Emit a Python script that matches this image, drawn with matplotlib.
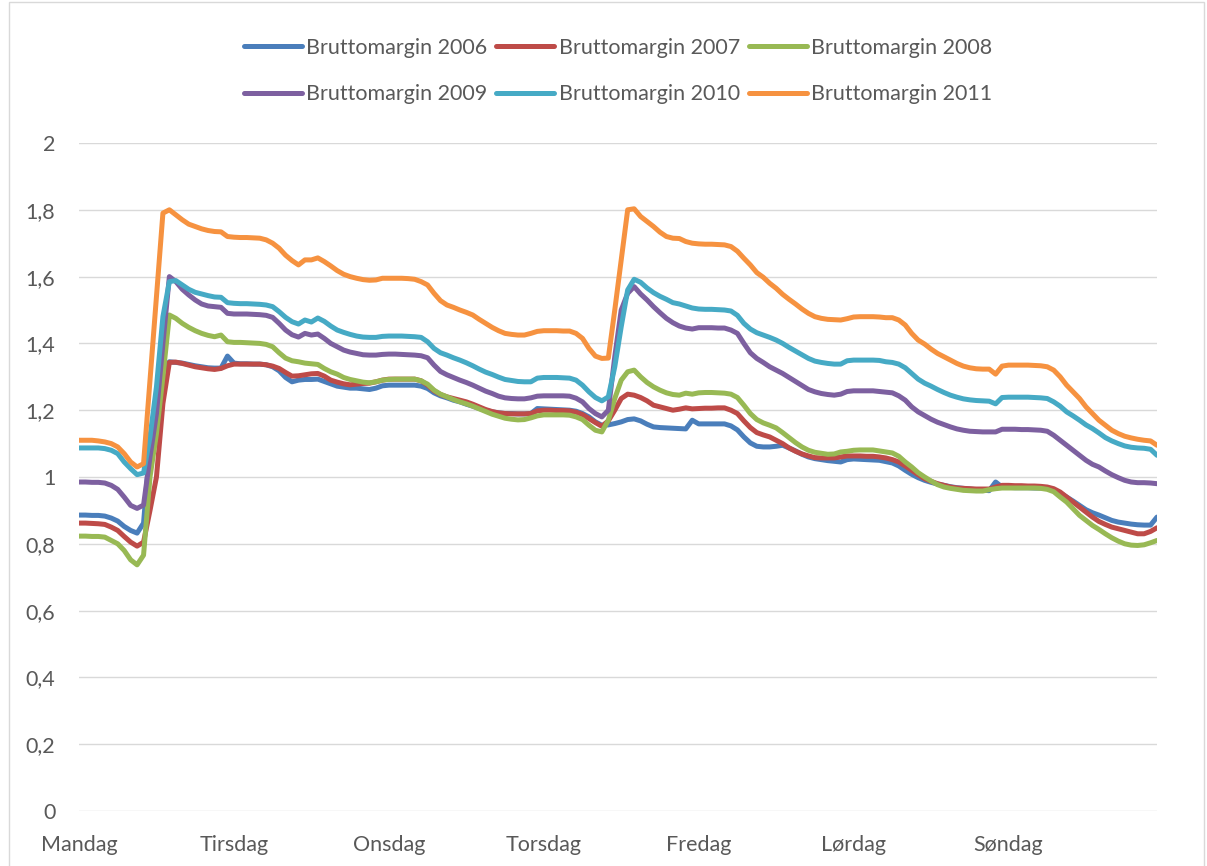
import matplotlib
matplotlib.use("Agg")
import matplotlib.pyplot as plt
from matplotlib.patches import Rectangle
import numpy as np

plt.rcParams['font.family'] = ['Lato', 'DejaVu Sans']

days = ['Mandag', 'Tirsdag', 'Onsdag', 'Torsdag', 'Fredag', 'Lørdag', 'Søndag']
hours = np.arange(168)

b2006 = [0.886, 0.886, 0.885, 0.885, 0.883, 0.877, 0.868, 0.852, 0.840, 0.832, 0.862, 1.100, 1.200, 1.320, 1.345, 1.343, 1.341, 1.337, 1.333, 1.330, 1.327, 1.326, 1.326, 1.362,
         1.341, 1.339, 1.339, 1.338, 1.338, 1.336, 1.330, 1.318, 1.298, 1.285, 1.290, 1.292, 1.292, 1.293, 1.286, 1.279, 1.272, 1.269, 1.266, 1.266, 1.264, 1.262, 1.266, 1.273,
         1.275, 1.275, 1.275, 1.275, 1.275, 1.272, 1.265, 1.252, 1.243, 1.237, 1.230, 1.225, 1.218, 1.212, 1.205, 1.200, 1.195, 1.192, 1.190, 1.190, 1.189, 1.189, 1.190, 1.205,
         1.204, 1.203, 1.202, 1.201, 1.200, 1.197, 1.190, 1.180, 1.165, 1.155, 1.156, 1.160, 1.165, 1.172, 1.174, 1.168, 1.158, 1.150, 1.148, 1.147, 1.146, 1.145, 1.144, 1.170,
         1.159, 1.159, 1.159, 1.159, 1.159, 1.153, 1.141, 1.120, 1.102, 1.092, 1.090, 1.090, 1.092, 1.095, 1.087, 1.078, 1.068, 1.060, 1.055, 1.052, 1.049, 1.047, 1.045, 1.052,
         1.054, 1.053, 1.052, 1.051, 1.050, 1.046, 1.042, 1.033, 1.020, 1.008, 0.998, 0.990, 0.984, 0.979, 0.975, 0.971, 0.968, 0.966, 0.964, 0.962, 0.961, 0.959, 0.985, 0.970,
         0.969, 0.968, 0.968, 0.968, 0.967, 0.967, 0.966, 0.961, 0.952, 0.940, 0.928, 0.915, 0.902, 0.893, 0.886, 0.878, 0.870, 0.865, 0.862, 0.859, 0.857, 0.856, 0.856, 0.880]

b2007 = [0.862, 0.862, 0.861, 0.860, 0.858, 0.850, 0.840, 0.822, 0.805, 0.793, 0.805, 0.900, 1.000, 1.220, 1.343, 1.344, 1.340, 1.335, 1.330, 1.327, 1.324, 1.322, 1.325, 1.333,
         1.338, 1.338, 1.338, 1.338, 1.338, 1.336, 1.332, 1.325, 1.313, 1.302, 1.303, 1.306, 1.309, 1.310, 1.302, 1.290, 1.284, 1.279, 1.276, 1.278, 1.280, 1.281, 1.285, 1.290,
         1.293, 1.293, 1.293, 1.293, 1.293, 1.288, 1.275, 1.258, 1.247, 1.240, 1.235, 1.230, 1.225, 1.218, 1.210, 1.202, 1.196, 1.192, 1.190, 1.189, 1.189, 1.189, 1.190, 1.198,
         1.200, 1.200, 1.199, 1.199, 1.198, 1.194, 1.187, 1.175, 1.163, 1.152, 1.168, 1.200, 1.235, 1.248, 1.245, 1.238, 1.228, 1.215, 1.210, 1.205, 1.200, 1.203, 1.207, 1.204,
         1.205, 1.206, 1.206, 1.207, 1.207, 1.200, 1.190, 1.168, 1.148, 1.133, 1.126, 1.120, 1.110, 1.100, 1.087, 1.077, 1.069, 1.063, 1.058, 1.057, 1.057, 1.057, 1.060, 1.063,
         1.063, 1.063, 1.062, 1.062, 1.060, 1.057, 1.052, 1.045, 1.033, 1.020, 1.007, 0.995, 0.987, 0.980, 0.975, 0.970, 0.967, 0.966, 0.965, 0.964, 0.964, 0.964, 0.970, 0.975,
         0.975, 0.974, 0.974, 0.973, 0.973, 0.972, 0.970, 0.965, 0.955, 0.940, 0.925, 0.910, 0.895, 0.880, 0.867, 0.858, 0.850, 0.845, 0.840, 0.835, 0.830, 0.830, 0.837, 0.848]

b2008 = [0.823, 0.823, 0.822, 0.822, 0.820, 0.810, 0.800, 0.780, 0.752, 0.737, 0.766, 1.000, 1.130, 1.300, 1.485, 1.475, 1.460, 1.448, 1.438, 1.430, 1.424, 1.420, 1.425, 1.405,
         1.403, 1.403, 1.402, 1.401, 1.400, 1.397, 1.390, 1.372, 1.356, 1.348, 1.345, 1.341, 1.339, 1.337, 1.325, 1.315, 1.308, 1.298, 1.292, 1.288, 1.284, 1.282, 1.285, 1.290,
         1.292, 1.293, 1.293, 1.293, 1.293, 1.288, 1.278, 1.260, 1.248, 1.240, 1.232, 1.225, 1.219, 1.212, 1.204, 1.196, 1.188, 1.182, 1.176, 1.173, 1.171, 1.172, 1.177, 1.183,
         1.186, 1.186, 1.186, 1.186, 1.185, 1.180, 1.172, 1.155, 1.140, 1.135, 1.170, 1.235, 1.290, 1.315, 1.320, 1.300, 1.283, 1.270, 1.260, 1.252, 1.247, 1.245, 1.251, 1.248,
         1.252, 1.253, 1.253, 1.252, 1.251, 1.248, 1.238, 1.215, 1.190, 1.172, 1.162, 1.155, 1.147, 1.133, 1.118, 1.103, 1.090, 1.080, 1.074, 1.071, 1.068, 1.069, 1.075, 1.077,
         1.080, 1.081, 1.081, 1.081, 1.078, 1.075, 1.072, 1.062, 1.045, 1.030, 1.013, 1.000, 0.988, 0.977, 0.970, 0.966, 0.963, 0.960, 0.959, 0.958, 0.958, 0.962, 0.965, 0.967,
         0.967, 0.967, 0.967, 0.967, 0.967, 0.966, 0.963, 0.956, 0.940, 0.925, 0.905, 0.885, 0.870, 0.855, 0.843, 0.830, 0.818, 0.808, 0.800, 0.796, 0.795, 0.797, 0.803, 0.810]

b2009 = [0.985, 0.985, 0.984, 0.984, 0.982, 0.975, 0.963, 0.940, 0.915, 0.906, 0.916, 1.060, 1.190, 1.400, 1.600, 1.585, 1.562, 1.545, 1.530, 1.518, 1.512, 1.510, 1.508, 1.490,
         1.488, 1.488, 1.488, 1.487, 1.486, 1.484, 1.478, 1.460, 1.440, 1.426, 1.419, 1.430, 1.425, 1.428, 1.415, 1.400, 1.390, 1.380, 1.374, 1.370, 1.366, 1.365, 1.365, 1.367,
         1.368, 1.368, 1.367, 1.366, 1.365, 1.363, 1.357, 1.335, 1.316, 1.306, 1.298, 1.290, 1.283, 1.275, 1.266, 1.257, 1.250, 1.242, 1.237, 1.235, 1.234, 1.234, 1.237, 1.242,
         1.243, 1.243, 1.243, 1.243, 1.242, 1.236, 1.225, 1.205, 1.190, 1.180, 1.200, 1.360, 1.500, 1.550, 1.570, 1.548, 1.530, 1.510, 1.492, 1.475, 1.462, 1.452, 1.446, 1.443,
         1.447, 1.447, 1.447, 1.446, 1.446, 1.440, 1.430, 1.400, 1.372, 1.355, 1.343, 1.330, 1.320, 1.310, 1.298, 1.286, 1.274, 1.262, 1.255, 1.250, 1.247, 1.245, 1.248, 1.256,
         1.258, 1.258, 1.258, 1.258, 1.256, 1.254, 1.252, 1.243, 1.230, 1.210, 1.195, 1.184, 1.173, 1.164, 1.157, 1.150, 1.144, 1.140, 1.137, 1.136, 1.135, 1.135, 1.135, 1.143,
         1.143, 1.143, 1.142, 1.142, 1.141, 1.140, 1.137, 1.125, 1.110, 1.095, 1.080, 1.065, 1.050, 1.038, 1.030, 1.018, 1.007, 0.998, 0.990, 0.985, 0.983, 0.983, 0.982, 0.980]

b2010 = [1.087, 1.087, 1.087, 1.087, 1.085, 1.080, 1.070, 1.045, 1.025, 1.007, 1.012, 1.120, 1.270, 1.480, 1.585, 1.588, 1.575, 1.562, 1.553, 1.548, 1.543, 1.539, 1.538, 1.522,
         1.520, 1.519, 1.519, 1.518, 1.517, 1.515, 1.510, 1.495, 1.478, 1.465, 1.458, 1.470, 1.464, 1.476, 1.466, 1.452, 1.440, 1.433, 1.427, 1.422, 1.419, 1.418, 1.418, 1.421,
         1.422, 1.422, 1.422, 1.421, 1.420, 1.418, 1.405, 1.385, 1.372, 1.365, 1.357, 1.350, 1.342, 1.333, 1.323, 1.314, 1.307, 1.299, 1.292, 1.289, 1.286, 1.285, 1.285, 1.296,
         1.298, 1.298, 1.298, 1.297, 1.296, 1.290, 1.275, 1.255, 1.238, 1.228, 1.240, 1.330, 1.450, 1.560, 1.592, 1.583, 1.566, 1.552, 1.541, 1.532, 1.522, 1.518, 1.512, 1.506,
         1.503, 1.502, 1.502, 1.501, 1.500, 1.497, 1.484, 1.460, 1.443, 1.432, 1.425, 1.418, 1.410, 1.400, 1.388, 1.377, 1.366, 1.355, 1.347, 1.343, 1.340, 1.338, 1.338, 1.348,
         1.350, 1.350, 1.350, 1.350, 1.349, 1.345, 1.343, 1.338, 1.327, 1.310, 1.293, 1.281, 1.272, 1.262, 1.253, 1.245, 1.239, 1.234, 1.231, 1.229, 1.228, 1.227, 1.219, 1.238,
         1.239, 1.239, 1.239, 1.239, 1.238, 1.237, 1.235, 1.225, 1.212, 1.195, 1.183, 1.170, 1.156, 1.145, 1.132, 1.118, 1.108, 1.100, 1.093, 1.089, 1.087, 1.086, 1.083, 1.065]

b2011 = [1.110, 1.110, 1.110, 1.108, 1.105, 1.100, 1.090, 1.070, 1.045, 1.030, 1.040, 1.290, 1.540, 1.790, 1.800, 1.785, 1.770, 1.757, 1.750, 1.743, 1.738, 1.735, 1.734, 1.720,
         1.718, 1.717, 1.717, 1.716, 1.715, 1.710, 1.700, 1.685, 1.664, 1.648, 1.635, 1.650, 1.650, 1.656, 1.645, 1.632, 1.618, 1.607, 1.600, 1.595, 1.591, 1.589, 1.590, 1.595,
         1.595, 1.595, 1.595, 1.594, 1.592, 1.585, 1.575, 1.550, 1.528, 1.515, 1.508, 1.500, 1.493, 1.485, 1.472, 1.460, 1.448, 1.438, 1.430, 1.427, 1.425, 1.425, 1.430, 1.436,
         1.438, 1.438, 1.438, 1.437, 1.437, 1.430, 1.415, 1.385, 1.362, 1.355, 1.356, 1.500, 1.650, 1.800, 1.803, 1.780, 1.765, 1.750, 1.733, 1.720, 1.715, 1.714, 1.705, 1.700,
         1.698, 1.697, 1.697, 1.696, 1.695, 1.690, 1.676, 1.655, 1.635, 1.612, 1.598, 1.580, 1.565, 1.547, 1.532, 1.518, 1.503, 1.490, 1.480, 1.475, 1.472, 1.471, 1.470, 1.474,
         1.479, 1.480, 1.480, 1.480, 1.479, 1.477, 1.477, 1.470, 1.455, 1.430, 1.410, 1.398, 1.383, 1.370, 1.360, 1.350, 1.340, 1.332, 1.327, 1.324, 1.323, 1.323, 1.308, 1.332,
         1.335, 1.335, 1.335, 1.335, 1.334, 1.333, 1.330, 1.320, 1.300, 1.275, 1.255, 1.235, 1.210, 1.190, 1.170, 1.155, 1.140, 1.130, 1.122, 1.117, 1.113, 1.110, 1.108, 1.095]

series = [b2006, b2007, b2008, b2009, b2010, b2011]
labels = ['Bruttomargin 2006', 'Bruttomargin 2007', 'Bruttomargin 2008',
          'Bruttomargin 2009', 'Bruttomargin 2010', 'Bruttomargin 2011']
colors = ['#4A7EBB', '#BE4B48', '#98B954', '#7D60A0', '#46AAC5', '#F69240']

yticks = [0, 0.2, 0.4, 0.6, 0.8, 1.0, 1.2, 1.4, 1.6, 1.8, 2.0]
ytick_labels = ['0', '0,2', '0,4', '0,6', '0,8', '1', '1,2', '1,4', '1,6', '1,8', '2']

W, H = 1207, 866
fig = plt.figure(figsize=(W / 100, H / 100), dpi=100)
ax = fig.add_axes([79 / W, 55 / H, 1078 / W, 668 / H])

text_col = '#595959'
lines = []
for vals, lab, col in zip(series, labels, colors):
    ln, = ax.plot(hours, vals, color=col, linewidth=3.6, label=lab,
                  solid_capstyle='round', solid_joinstyle='round')
    lines.append(ln)

ax.set_xlim(0, 167)
ax.set_ylim(0, 2)
ax.set_yticks(yticks)
ax.set_yticklabels(ytick_labels)
ax.set_xticks(hours[::24])
ax.set_xticklabels(days)
ax.tick_params(axis='both', length=0, labelsize=15.5, labelcolor=text_col)
ax.tick_params(axis='y', pad=17)
ax.tick_params(axis='x', pad=17)
ax.grid(axis='y', color='#D9D9D9', linewidth=1.0)
ax.set_axisbelow(True)
for s in ax.spines.values():
    s.set_visible(False)

# legend fills column-wise, so reorder to get rows 2006-2008 / 2009-2011
order = [0, 3, 1, 4, 2, 5]
leg = ax.legend([lines[i] for i in order], [labels[i] for i in order],
                loc='center', ncol=3, bbox_to_anchor=(618 / W, 1 - 71 / H),
                bbox_transform=fig.transFigure, frameon=False, fontsize=15.5,
                handlelength=2.7, handletextpad=0.2, columnspacing=0.4,
                labelspacing=1.25)
for t in leg.get_texts():
    t.set_color(text_col)
for h in leg.get_lines():
    h.set_linewidth(3.6)

fig.patches.append(Rectangle((9 / W, -0.01), 1195 / W, 1.008, transform=fig.transFigure,
                             fill=False, edgecolor='#D9D9D9', linewidth=1.0))

fig.savefig('out.png', dpi=100)
